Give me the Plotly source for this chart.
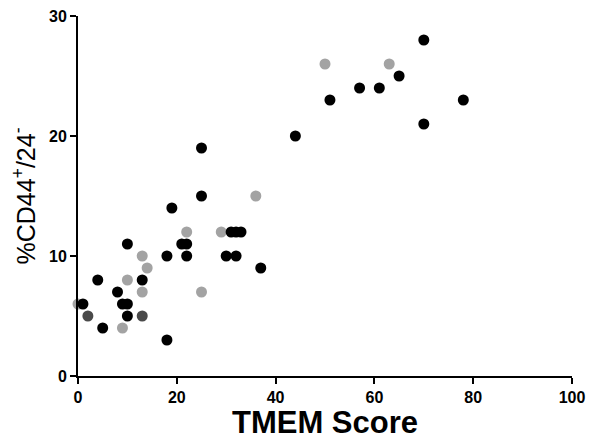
import plotly.graph_objects as go

# Black points (TMEM score, %CD44+/24-)
black_x = [1, 4, 5, 8, 9, 10, 10, 10, 13, 18, 18, 19, 21, 22, 22, 25, 25, 30, 31, 32, 33, 32, 37, 44, 51, 57, 61, 65, 70, 70, 78]
black_y = [6, 8, 4, 7, 6, 6, 5, 11, 8, 3, 10, 14, 11, 11, 10, 19, 15, 10, 12, 12, 12, 10, 9, 20, 23, 24, 24, 25, 28, 21, 23]

# Light grey points
grey_x = [0, 9, 10, 13, 14, 13, 22, 25, 29, 36, 50, 63]
grey_y = [6, 4, 8, 10, 9, 7, 12, 7, 12, 15, 26, 26]

# Dark grey points
dark_x = [2, 13]
dark_y = [5, 5]

x_ticks = [0, 20, 40, 60, 80, 100]
y_ticks = [0, 10, 20, 30]

fig = go.Figure()
for xs, ys, col in [(grey_x, grey_y, "#a3a3a3"), (dark_x, dark_y, "#4a4a4a"), (black_x, black_y, "#000000")]:
    fig.add_trace(go.Scatter(
        x=xs, y=ys, mode="markers",
        marker=dict(size=11, color=col, line=dict(width=0)),
        cliponaxis=False, showlegend=False,
    ))

axis_common = dict(
    showgrid=False, zeroline=False, showline=True, linecolor="black", linewidth=2,
    ticks="outside", ticklen=6, tickwidth=2, tickcolor="black", automargin=False,
    ticklabeloverflow="allow",
    tickfont=dict(family="Liberation Sans, Arial", size=16, color="black", weight="bold"),
)

fig.update_layout(
    width=587, height=432,
    margin=dict(l=70, r=23, t=8, b=64),
    paper_bgcolor="white", plot_bgcolor="white",
    xaxis=dict(range=[0, 100], tickvals=x_ticks,
               title=dict(text="TMEM Score", standoff=15,
                          font=dict(family="Liberation Sans, Arial", size=31, color="black", weight="bold")),
               **axis_common),
    yaxis=dict(range=[0, 30], tickvals=y_ticks,
               title=dict(text="%CD44<sup>+</sup>/24<sup>-</sup>", standoff=10,
                          font=dict(family="Liberation Sans, Arial", size=25, color="black")),
               **axis_common),
)

fig.write_html("out.html")
